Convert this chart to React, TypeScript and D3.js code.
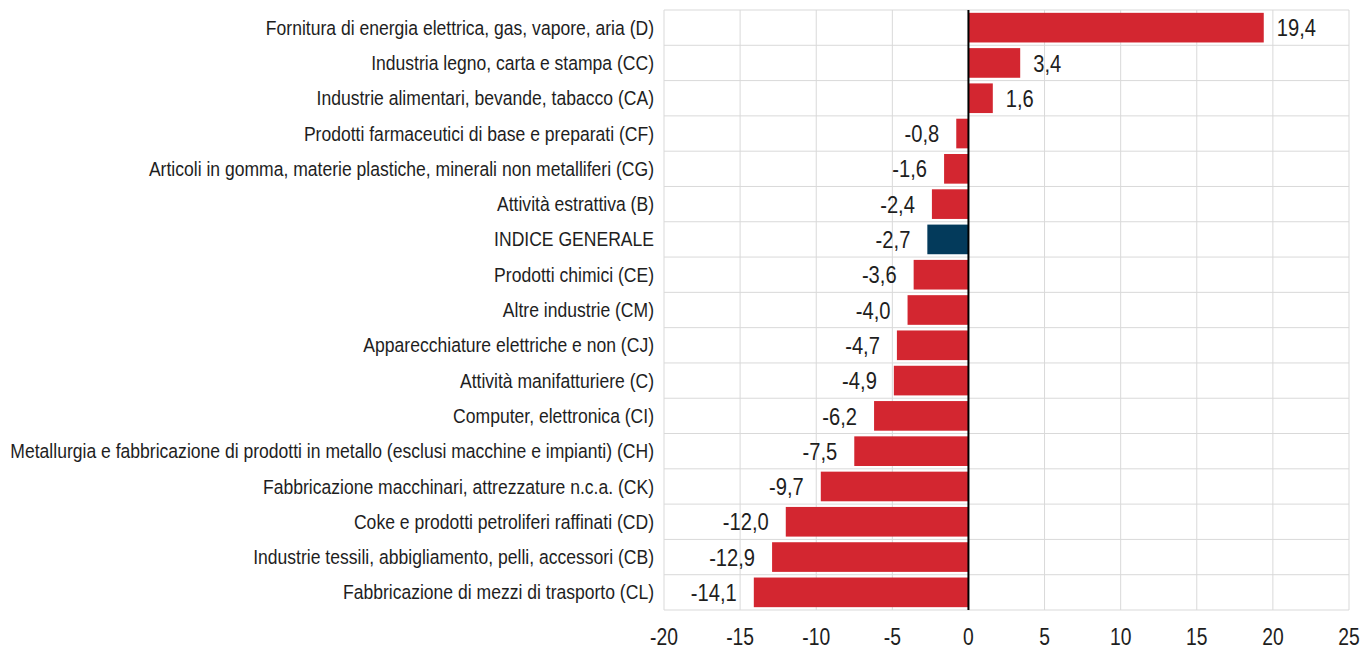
import React from "react";
import * as d3 from "d3";

const categories = [
  "Fornitura di energia elettrica, gas, vapore, aria (D)",
  "Industria legno, carta e stampa (CC)",
  "Industrie alimentari, bevande, tabacco (CA)",
  "Prodotti farmaceutici di base e preparati (CF)",
  "Articoli in gomma, materie plastiche, minerali non metalliferi (CG)",
  "Attività estrattiva (B)",
  "INDICE GENERALE",
  "Prodotti chimici (CE)",
  "Altre industrie (CM)",
  "Apparecchiature elettriche e non (CJ)",
  "Attività manifatturiere (C)",
  "Computer, elettronica (CI)",
  "Metallurgia e fabbricazione di prodotti in metallo (esclusi macchine e impianti) (CH)",
  "Fabbricazione macchinari, attrezzature n.c.a. (CK)",
  "Coke e prodotti petroliferi raffinati (CD)",
  "Industrie tessili, abbigliamento, pelli, accessori (CB)",
  "Fabbricazione di mezzi di trasporto (CL)",
];
const values = [19.4, 3.4, 1.6, -0.8, -1.6, -2.4, -2.7, -3.6, -4.0, -4.7, -4.9, -6.2, -7.5, -9.7, -12.0, -12.9, -14.1];
const highlight = ["INDICE GENERALE"];
const xTicks = [-20, -15, -10, -5, 0, 5, 10, 15, 20, 25];

const W = 1363;
const H = 649;
const M = { left: 664, right: 1349, top: 10, bottom: 610 };
const FONT = "'Liberation Sans', Arial, sans-serif";
const RED = "#D32630";
const NAVY = "#033A5B";
const TEXT = "#1e1e1e";
const GRID = "#d9d9d9";

const fmt = (v: number) => v.toFixed(1).replace(".", ",");

function NText(props: { x: number; y: number; anchor: "start" | "middle" | "end"; size: number; sx: number; dy?: string; children: React.ReactNode }) {
  return (
    <text
      transform={`translate(${props.x},${props.y}) scale(${props.sx},1)`}
      dy={props.dy}
      textAnchor={props.anchor}
      fontSize={props.size}
      fill={TEXT}
    >
      {props.children}
    </text>
  );
}

export default function App() {
  const x = d3.scaleLinear().domain([-20, 25]).range([M.left, M.right]);
  const y = d3.scaleBand<string>().domain(categories).range([M.top, M.bottom]).paddingInner(0.16).paddingOuter(0.08);
  const rowH = (M.bottom - M.top) / categories.length;
  const rowMid = (c: string) => M.top + categories.indexOf(c) * rowH + rowH / 2;

  return (
    <svg width={W} height={H} style={{ position: "absolute", left: 0, top: 0, background: "#fff" }} fontFamily={FONT}>
      {d3.range(categories.length + 1).map((i) => (
        <line key={"h" + i} x1={M.left} x2={M.right} y1={M.top + i * rowH} y2={M.top + i * rowH} stroke={GRID} strokeWidth={1} />
      ))}
      {xTicks.map((t) => (
        <line key={"v" + t} x1={x(t)} x2={x(t)} y1={M.top} y2={M.bottom} stroke={GRID} strokeWidth={1} />
      ))}
      {categories.map((c, i) => {
        const v = values[i];
        const bh = y.bandwidth();
        return (
          <rect
            key={"b" + i}
            x={Math.min(x(0), x(v))}
            y={rowMid(c) - bh / 2}
            width={Math.abs(x(v) - x(0))}
            height={bh}
            fill={highlight.includes(c) ? NAVY : RED}
          />
        );
      })}
      <line x1={x(0)} x2={x(0)} y1={M.top} y2={M.bottom} stroke="#000" strokeWidth={2} />
      {categories.map((c, i) => {
        const v = values[i];
        return (
          <NText key={"vl" + i} x={v >= 0 ? x(v) + 13 : x(v) - 17} y={rowMid(c)} dy="0.36em" anchor={v >= 0 ? "start" : "end"} size={24} sx={0.84}>
            {fmt(v)}
          </NText>
        );
      })}
      {categories.map((c, i) => (
        <NText key={"cl" + i} x={M.left - 10} y={rowMid(c)} dy="0.36em" anchor="end" size={19.5} sx={0.9}>
          {c}
        </NText>
      ))}
      {xTicks.map((t) => (
        <NText key={"xt" + t} x={x(t)} y={645} anchor="middle" size={23} sx={0.84}>
          {t}
        </NText>
      ))}
    </svg>
  );
}
